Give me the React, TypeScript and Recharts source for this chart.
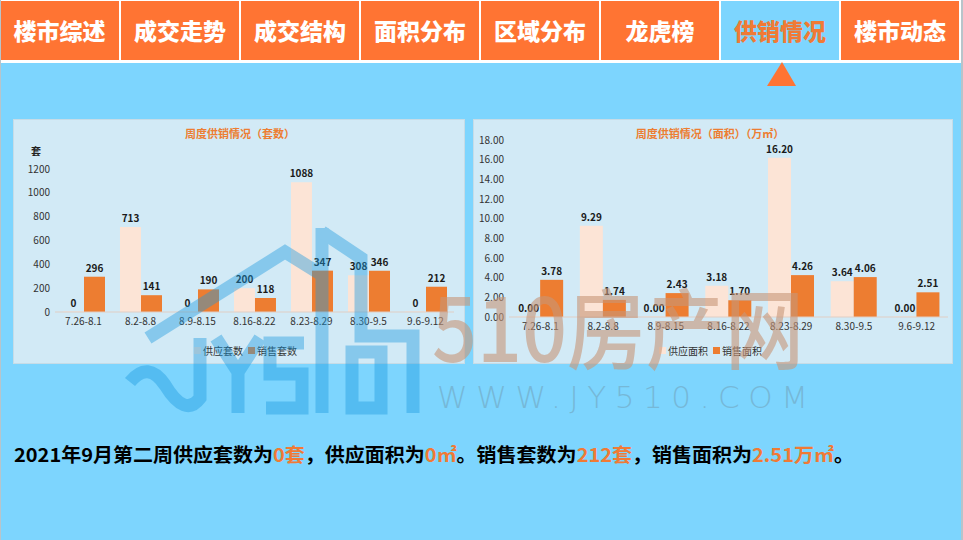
import { BarChart, Bar, XAxis, YAxis, Legend, LabelList } from 'recharts'

// 周度供销 数据
const weeks = ['7.26-8.1', '8.2-8.8', '8.9-8.15', '8.16-8.22', '8.23-8.29', '8.30-9.5', '9.6-9.12']
const supplyUnits = [0, 713, 0, 200, 1088, 308, 0]
const salesUnits = [296, 141, 190, 118, 347, 346, 212]
const supplyArea = [0, 9.29, 0, 3.18, 16.2, 3.64, 0]
const salesArea = [3.78, 1.74, 2.43, 1.7, 4.26, 4.06, 2.51]
const unitTicks = [0, 200, 400, 600, 800, 1000, 1200]
const areaTicks = [0, 2, 4, 6, 8, 10, 12, 14, 16, 18]
const navTabs = ['楼市综述', '成交走势', '成交结构', '面积分布', '区域分布', '龙虎榜', '供销情况', '楼市动态']
const activeTab = 6

const FONT = '"Noto Sans CJK SC", "Noto Sans", sans-serif'
const COLORS = {
  orange: '#ED7D31',
  peach: '#FCE4D6',
  panel: '#D2EAF6',
  bg: '#7DD5FE',
  nav: '#FF7433',
  text: '#333333',
  axis: '#E0CEC4',
}

const unitData = weeks.map((w, i) => ({ week: w, supply: supplyUnits[i], sales: salesUnits[i] }))
const areaData = weeks.map((w, i) => ({ week: w, supply: supplyArea[i], sales: salesArea[i] }))

const tickStyle = { fontSize: 10, fill: COLORS.text, fontFamily: FONT }
const labelStyle = { fontSize: 10, fill: '#1a1a1a', fontWeight: 700, fontFamily: FONT }

function LegendRow(props: any) {
  const items = props.payload || []
  return (
    <div style={{ height: 16, paddingLeft: props.shift || 0, display: 'flex', justifyContent: 'center', alignItems: 'center', gap: 5, fontSize: 10, color: COLORS.text, fontFamily: FONT }}>
      {items.map((it: any) => (
        <span key={it.value} style={{ display: 'flex', alignItems: 'center', gap: 2 }}>
          <span style={{ width: 7, height: 7, background: it.color, display: 'inline-block' }} />
          {it.value}
        </span>
      ))}
    </div>
  )
}

function Panel({ left, width, children }: { left: number; width: number; children: any }) {
  return (
    <div
      style={{
        position: 'absolute',
        left,
        top: 119,
        width,
        height: 245,
        background: COLORS.panel,
        boxShadow: 'inset 0 0 0 1px #C6DCE7',
      }}
    >
      {children}
    </div>
  )
}

function Title({ text, center }: { text: string; center: number }) {
  return (
    <div
      style={{
        position: 'absolute',
        top: 6,
        left: center - 150,
        width: 300,
        textAlign: 'center',
        fontSize: 11,
        fontWeight: 700,
        color: COLORS.orange,
        fontFamily: FONT,
      }}
    >
      {text}
    </div>
  )
}

function UnitsChart() {
  return (
    <Panel left={13} width={452}>
      <Title text="周度供销情况（套数）" center={227} />
      <div style={{ position: 'absolute', left: 18, top: 24, fontSize: 10, fontWeight: 700, fontFamily: FONT, color: '#222' }}>套</div>
      <BarChart
        width={452}
        height={245}
        data={unitData}
        margin={{ top: 50, right: 11, left: 0, bottom: 6 }}
        barCategoryGap="14%"
        barGap={0}
      >
        <XAxis
          dataKey="week"
          interval={0}
          height={30}
          axisLine={{ stroke: COLORS.axis }}
          tickLine={false}
          tickSize={0}
          tickMargin={6}
          tick={tickStyle}
        />
        <YAxis
          width={42}
          domain={[0, 1200]}
          ticks={unitTicks}
          interval={0}
          axisLine={false}
          tickLine={false}
          tickSize={0}
          tickMargin={5}
          tick={tickStyle}
        />
        <Legend verticalAlign="bottom" content={<LegendRow shift={24} />} />
        <Bar dataKey="supply" name="供应套数" fill={COLORS.peach} minPointSize={0.5} isAnimationActive={false}>
          <LabelList dataKey="supply" position="top" style={labelStyle} />
        </Bar>
        <Bar dataKey="sales" name="销售套数" fill={COLORS.orange} isAnimationActive={false}>
          <LabelList dataKey="sales" position="top" style={labelStyle} />
        </Bar>
      </BarChart>
    </Panel>
  )
}

function AreaChartPanel() {
  const fmt = (v: any) => Number(v).toFixed(2)
  return (
    <Panel left={473} width={480}>
      <Title text="周度供销情况（面积）（万㎡）" center={237} />
      <BarChart
        width={480}
        height={245}
        data={areaData}
        margin={{ top: 21, right: 5, left: 0, bottom: 6 }}
        barCategoryGap="13%"
        barGap={0}
      >
        <XAxis
          dataKey="week"
          interval={0}
          height={25}
          axisLine={{ stroke: COLORS.axis }}
          tickLine={false}
          tickSize={0}
          tickMargin={6}
          tick={tickStyle}
        />
        <YAxis
          width={36}
          domain={[0, 18]}
          ticks={areaTicks}
          interval={0}
          tickFormatter={fmt}
          axisLine={false}
          tickLine={false}
          tickSize={0}
          tickMargin={5}
          tick={tickStyle}
        />
        <Legend verticalAlign="bottom" content={<LegendRow shift={0} />} />
        <Bar dataKey="supply" name="供应面积" fill={COLORS.peach} minPointSize={0.5} isAnimationActive={false}>
          <LabelList dataKey="supply" position="top" formatter={fmt} style={labelStyle} />
        </Bar>
        <Bar dataKey="sales" name="销售面积" fill={COLORS.orange} isAnimationActive={false}>
          <LabelList dataKey="sales" position="top" formatter={fmt} style={labelStyle} />
        </Bar>
      </BarChart>
    </Panel>
  )
}

function NavBar() {
  return (
    <div style={{ position: 'absolute', left: 0, top: 0, width: 963, height: 63, background: '#fff' }}>
      {navTabs.map((t, i) => (
        <div
          key={t}
          style={{
            position: 'absolute',
            left: i === 0 ? 0 : 120 * i + 1,
            top: 1,
            width: i === 0 ? 119 : 118,
            height: 59,
            background: i === activeTab ? COLORS.bg : COLORS.nav,
            color: i === activeTab ? '#F07A35' : '#fff',
            fontFamily: FONT,
            fontWeight: 900,
            fontSize: 23,
            lineHeight: '59px',
            textAlign: 'center',
          }}
        >
          {t}
        </div>
      ))}
    </div>
  )
}

// 水印
function Watermark() {
  const blue = '#1E9BE0'
  return (
    <svg width={963} height={540} style={{ position: 'absolute', left: 0, top: 0, pointerEvents: 'none' }}>
      <g opacity={0.42} stroke={blue} strokeWidth={13} fill="none" strokeLinejoin="miter">
        <path d="M148 338 L285 252 L322 275" />
        <path d="M322 228 L322 413" />
        <path d="M322 232 L361 258 L361 336 L413 336 L413 413" />
        <path d="M130 382 Q148 360 165 385 Q185 418 200 398 L200 338" />
        <path d="M216 338 L238 372 L260 338 M238 372 L238 413" />
        <path d="M304 343 L270 343 L270 374 L302 374 L302 408 L266 408" />
        <path d="M352 352 L352 408 L381 408 L381 352 Z" />
      </g>
      <text
        x={432}
        y={362}
        textLength={372}
        lengthAdjust="spacingAndGlyphs"
        fontSize={88}
        fontFamily={FONT}
        fontWeight={500}
        fill="rgb(200,150,120)"
        opacity={0.6}
      >
        510房产网
      </text>
      <text
        x={437}
        y={408}
        textLength={371}
        lengthAdjust="spacing"
        fontSize={31}
        fontFamily='"DejaVu Sans", sans-serif'
        fontWeight={200}
        fill="rgb(110,150,170)"
        opacity={0.45}
      >
        WWW.JY510.COM
      </text>
    </svg>
  )
}

function Summary() {
  const hi = { fill: '#F07A35' }
  return (
    <svg width={963} height={40} style={{ position: 'absolute', left: 0, top: 435 }}>
      <text
        x={14}
        y={27}
        textLength={840}
        lengthAdjust="spacingAndGlyphs"
        fontSize={19}
        fontWeight={700}
        fontFamily={FONT}
        fill="#000"
      >
        2021年9月第二周供应套数为<tspan {...hi}>0套</tspan>，供应面积为<tspan {...hi}>0㎡</tspan>。销售套数为
        <tspan {...hi}>212套</tspan>，销售面积为<tspan {...hi}>2.51万㎡</tspan>。
      </text>
    </svg>
  )
}

export default function App() {
  return (
    <div style={{ position: 'relative', width: 963, height: 540, background: COLORS.bg, overflow: 'hidden', fontFamily: FONT }}>
      <style>{'body{margin:0}'}</style>
      <NavBar />
      <svg width={963} height={540} style={{ position: 'absolute', left: 0, top: 0 }}>
        <polygon points="782,62 767,86 796,86" fill={COLORS.nav} />
      </svg>
      <UnitsChart />
      <AreaChartPanel />
      <Watermark />
      <Summary />
      <div style={{ position: 'absolute', left: 0, top: 0, width: 1, height: 540, background: '#B8C4CA' }} />
      <div style={{ position: 'absolute', right: 0, top: 0, width: 2, height: 540, background: '#B8C4CA' }} />
    </div>
  )
}
